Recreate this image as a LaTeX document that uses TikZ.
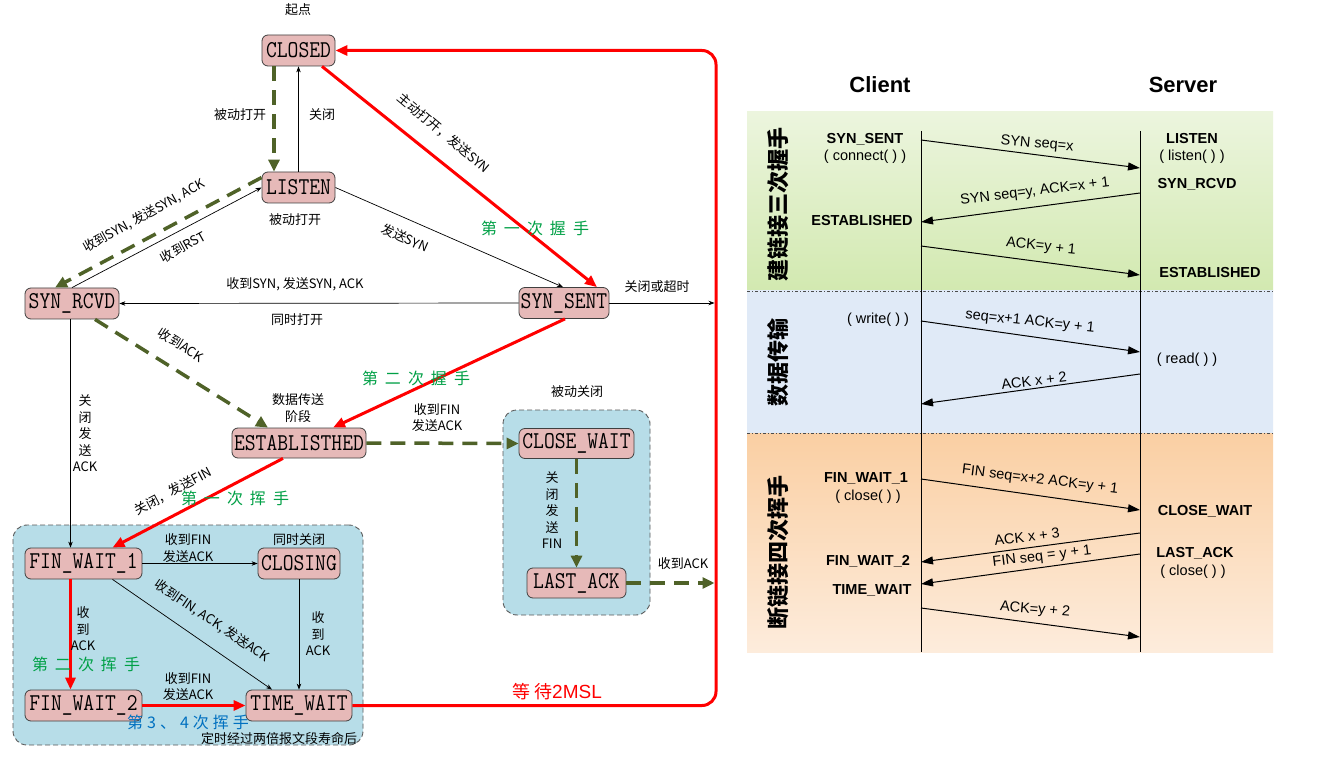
\documentclass[tikz,border=0pt]{standalone}
\usepackage{fontspec}
\usepackage{graphicx}
\setmainfont{Liberation Sans}
\newfontfamily\cjk{Noto Sans CJK SC}
\usetikzlibrary{arrows.meta}
\definecolor{statefill}{RGB}{230,185,184}
\definecolor{stateline}{RGB}{64,64,64}
\definecolor{boxfill}{RGB}{183,221,232}
\definecolor{boxline}{RGB}{90,90,90}
\definecolor{dgreen}{RGB}{79,98,40}
\definecolor{hgreen}{RGB}{0,160,70}
\definecolor{hblue}{RGB}{0,112,192}
\definecolor{mred}{RGB}{255,0,0}
\definecolor{gtop}{RGB}{236,245,222}
\definecolor{gbot}{RGB}{210,233,176}
\definecolor{bside}{RGB}{224,234,247}
\definecolor{bmid}{RGB}{192,211,240}
\definecolor{otop}{RGB}{250,207,163}
\definecolor{obot}{RGB}{253,236,220}
\newcommand\gp{\hspace{7pt}}
\newcommand\gq{\hspace{4pt}}
\newcommand\sg[1]{\scalebox{1}[1.15]{#1}}
\begin{document}
\begin{tikzpicture}[x=1pt,y=-1pt,
 stbox/.style={draw=stateline, line width=0.8pt, fill=statefill, rounded corners=6pt, inner sep=0pt, minimum height=31pt, font=\ttfamily\fontsize{21}{21}\selectfont},
 grp/.style={draw=boxline, line width=0.9pt, dash pattern=on 5pt off 3pt, fill=boxfill, rounded corners=14pt, inner sep=0pt},
 lbl/.style={font=\cjk\fontsize{13}{16.5}\selectfont, inner sep=0pt, align=center},
 hs/.style={font=\cjk\fontsize{16}{16}\selectfont, text=hgreen, inner sep=0pt},
 thinarr/.style={draw=black, line width=0.7pt, -{Stealth[length=6pt,width=4.5pt]}},
 greenarr/.style={draw=dgreen, line width=3.5pt, dash pattern=on 15pt off 9pt, -{Triangle[length=12pt,width=11pt]}},
 redarr/.style={draw=mred, line width=3pt, -{Triangle[length=12pt,width=10pt]}},
 lifeline/.style={draw=black, line width=1pt},
 seqarr/.style={draw=black, line width=1pt, -{Triangle[length=12pt,width=8pt]}},
 seqlbl/.style={font=\fontsize{14.5}{17}\selectfont, inner sep=0pt, align=center},
 seqst/.style={font=\bfseries\fontsize{14.5}{17}\selectfont, inner sep=0pt},
 bandlbl/.style={font=\cjk\bfseries\fontsize{22}{22}\selectfont, rotate=90, inner sep=0pt},
 bandsep/.style={draw=black!70, line width=0.8pt, dash pattern=on 3pt off 2pt on 1pt off 2pt}
]
\fill[white] (0,0) rectangle (1320,759);
\useasboundingbox (0,0) rectangle (1320,759);

% ---------------- left: state diagram ----------------
\node[grp, minimum width=350pt, minimum height=220pt] (grpA) at (188,635) {};
\node[grp, minimum width=147pt, minimum height=205pt] (grpB) at (576.5,512.5) {};

\node[stbox, minimum width=73pt] (closed) at (298.5,50.5) {\sg{CLOSED}};
\node[stbox, minimum width=73pt] (listen) at (298.5,187.5) {\sg{LISTEN}};
\node[stbox, minimum width=94pt] (synrcvd) at (72,303.5) {\sg{SYN\_RCVD}};
\node[stbox, minimum width=90pt] (synsent) at (564,303) {\sg{SYN\_SENT}};
\node[stbox, minimum width=134pt, minimum height=30pt] (estab) at (299,443) {\sg{ESTABLISTHED}};
\node[stbox, minimum width=115pt, minimum height=30pt] (closewait) at (576.5,443.5) {\sg{CLOSE\_WAIT}};
\node[stbox, minimum width=99pt, minimum height=30pt] (lastack) at (576.5,583) {\sg{LAST\_ACK}};
\node[stbox, minimum width=117pt] (finwait1) at (83.5,563.5) {\sg{FIN\_WAIT\_1}};
\node[stbox, minimum width=82pt] (closing) at (299,563.5) {\sg{CLOSING}};
\node[stbox, minimum width=117pt] (finwait2) at (83.5,705.5) {\sg{FIN\_WAIT\_2}};
\node[stbox, minimum width=106pt] (timewait) at (299,705.5) {\sg{TIME\_WAIT}};

\coordinate (loopB) at (716,705.5);
\coordinate (loopT) at (716,50.5);

% connectors
\draw[greenarr] ([xshift=-24.5pt]closed.south) -- ([xshift=-24.5pt]listen.north);
\draw[thinarr] (listen.north) -- (closed.south);
\draw[redarr] ([xshift=23.5pt]closed.south) -- ([xshift=33pt]synsent.north);
\draw[thinarr] (listen.east) -- ([xshift=-1pt]synsent.north);
\draw[greenarr] ([yshift=10pt]listen.west) -- ([xshift=-17pt]synrcvd.north);
\draw[thinarr] (synrcvd.north) -- (listen.west);
\draw[thinarr] (synsent.west) -- (synrcvd.east);
\draw[thinarr, shorten >=1.5pt] (synsent.east) -- (synsent.east -| loopB);
\draw[redarr] ([xshift=1pt]synsent.south) -- ([xshift=34pt]estab.north);
\draw[greenarr] ([xshift=23pt]synrcvd.south) -- ([xshift=-31pt]estab.north);
\draw[thinarr] ([xshift=-1.5pt]synrcvd.south) -- ([xshift=-13pt]finwait1.north);
\draw[redarr] ([xshift=-16pt]estab.south) -- ([xshift=29pt]finwait1.north);
\draw[greenarr] (estab.east) -- (closewait.west);
\draw[greenarr] (closewait.south) -- (lastack.north);
\draw[greenarr, shorten >=1.5pt] (lastack.east) -- (lastack.east -| loopB);
\draw[thinarr] (finwait1.east) -- (closing.west);
\draw[thinarr] ([xshift=29pt]finwait1.south) -- ([xshift=-27pt]timewait.north);
\draw[thinarr] (closing.south) -- (timewait.north);
\draw[redarr] ([xshift=-13pt]finwait1.south) -- ([xshift=-13pt]finwait2.north);
\draw[redarr] (finwait2.east) -- (timewait.west);
\draw[redarr, rounded corners=14pt] (timewait.east) -- (loopB) -- (loopT) -- (closed.east);

% labels
\node[lbl] (l1) at (298,10) {起点};
\node[lbl] (l2) at (240,115) {被动打开};
\node[lbl] (l3) at (322,115) {关闭};
\node[lbl, rotate=-40] (l4) at (444,133) {主动打开，发送SYN};
\node[hs] (l5) at (535,228) {第\gp 一\gp 次\gp 握\gp 手};
\node[lbl, rotate=-24] (l6) at (405,238) {发送SYN};
\node[lbl] (l7) at (295,220) {被动打开};
\node[lbl, rotate=29] (l8) at (144,216) {收到SYN, 发送SYN, ACK};
\node[lbl, rotate=29] (l9) at (183,247) {收到RST};
\node[lbl] (l10) at (295,284) {收到SYN, 发送SYN, ACK};
\node[lbl] (l11) at (297,320) {同时打开};
\node[lbl] (l12) at (657,287) {关闭或超时};
\node[hs] (l13) at (416,378) {第\gp 二\gp 次\gp 握\gp 手};
\node[lbl, rotate=-32] (l14) at (181,345) {收到ACK};
\node[lbl] (l15) at (298,408) {数据传送\\阶段};
\node[lbl] (l16) at (85,433.5) {关\\闭\\发\\送\\ACK};
\node[lbl, rotate=28] (l17) at (173,491) {关闭，发送FIN};
\node[hs] (l18) at (235,498) {第\gp 一\gp 次\gp 挥\gp 手};
\node[lbl] (l19) at (437,417.5) {收到FIN\\发送ACK};
\node[lbl] (l20) at (577,392) {被动关闭};
\node[lbl] (l21) at (552,510.5) {关\\闭\\发\\送\\FIN};
\node[lbl] (l22) at (683,564) {收到ACK};
\node[lbl] (l23) at (188,548) {收到FIN\\发送ACK};
\node[lbl] (l24) at (299,540) {同时关闭};
\node[lbl, rotate=-34] (l25) at (212,621) {收到FIN, ACK, 发送ACK};
\node[lbl] (l26) at (318,634) {收\\到\\ACK};
\node[lbl] (l27) at (83,629) {收\\到\\ACK};
\node[hs] (l28) at (86,664) {第\gp 二\gp 次\gp 挥\gp 手};
\node[lbl] (l29) at (188,686.5) {收到FIN\\发送ACK};
\node[hs, text=hblue] (l30) at (188,722) {第\gq 3\gq 、\gq 4\gq 次\gq 挥\gq 手};
\node[lbl] (l31) at (279,738.5) {定时经过两倍报文段寿命后};
\node[inner sep=0pt, text=mred] (l32) at (557,692) {{\cjk\fontsize{18}{18}\selectfont 等\gq 待}{\fontsize{19}{19}\selectfont 2MSL}};

% ---------------- right: sequence diagram ----------------
\fill[top color=gtop, bottom color=gbot] (747,112) rectangle (1273,291);
\fill[left color=bside, middle color=bmid, right color=bside] (747,291) rectangle (1273,433);
\fill[top color=otop, bottom color=obot] (747,433) rectangle (1273,652);
\draw[bandsep] (747,291) -- (1273,291);
\draw[bandsep] (747,433) -- (1273,433);

\node[font=\bfseries\fontsize{22}{22}\selectfont, inner sep=0pt] (client) at (880,85) {Client};
\node[font=\bfseries\fontsize{22}{22}\selectfont, inner sep=0pt] (server) at (1183,85) {Server};

\coordinate (ctop) at (921,131); \coordinate (cbot) at (921,652);
\coordinate (stop) at (1140,131); \coordinate (sbot) at (1140,652);
\draw[lifeline] (ctop) -- (cbot);
\draw[lifeline] (stop) -- (sbot);

\node[bandlbl] (b1) at (778,205) {建链接三次握手};
\node[bandlbl] (b2) at (778,362) {数据传输};
\node[bandlbl] (b3) at (778,552) {断链接四次挥手};

\node[seqst] (r1) at (865,139) {SYN\_SENT};
\node[seqlbl] (r2) at (865,157) {( connect( ) )};
\node[seqst] (r3) at (1192,139) {LISTEN};
\node[seqlbl] (r4) at (1192,157) {( listen( ) )};
\node[seqst] (r5) at (1197,184) {SYN\_RCVD};
\node[seqst] (r6) at (862,221) {ESTABLISHED};
\node[seqst] (r7) at (1210,273) {ESTABLISHED};
\node[seqlbl] (r8) at (878,320) {( write( ) )};
\node[seqlbl] (r9) at (1187,360) {( read( ) )};
\node[seqst] (r10) at (866,478) {FIN\_WAIT\_1};
\node[seqlbl] (r11) at (868,497) {( close( ) )};
\node[seqst] (r12) at (1205,511) {CLOSE\_WAIT};
\node[seqst] (r13) at (1195,553) {LAST\_ACK};
\node[seqlbl] (r14) at (1193,572) {( close( ) )};
\node[seqst] (r15) at (868,561) {FIN\_WAIT\_2};
\node[seqst] (r16) at (872,590) {TIME\_WAIT};

\coordinate (ca1) at (921,140); \coordinate (sa1) at (1140,168);
\coordinate (sa2) at (1140,193); \coordinate (ca2) at (921,222);
\coordinate (ca3) at (921,246); \coordinate (sa3) at (1140,275);
\coordinate (ca4) at (921,321); \coordinate (sa4) at (1140,352);
\coordinate (sa5) at (1140,374); \coordinate (ca5) at (921,404);
\coordinate (ca6) at (921,479); \coordinate (sa6) at (1140,510);
\coordinate (sa7) at (1140,533); \coordinate (ca7) at (921,562);
\coordinate (sa8) at (1140,554); \coordinate (ca8) at (921,584);
\coordinate (ca9) at (921,608); \coordinate (sa9) at (1140,637);
\draw[seqarr] (ca1) -- (sa1);
\draw[seqarr] (sa2) -- (ca2);
\draw[seqarr] (ca3) -- (sa3);
\draw[seqarr] (ca4) -- (sa4);
\draw[seqarr] (sa5) -- (ca5);
\draw[seqarr] (ca6) -- (sa6);
\draw[seqarr] (sa7) -- (ca7);
\draw[seqarr] (sa8) -- (ca8);
\draw[seqarr] (ca9) -- (sa9);

\node[seqlbl, rotate=-5] (m1) at (1037,144) {SYN seq=x};
\node[seqlbl, rotate=7] (m2) at (1035,192) {SYN seq=y, ACK=x + 1};
\node[seqlbl, rotate=-6] (m3) at (1041,247) {ACK=y + 1};
\node[seqlbl, rotate=-6] (m4) at (1030,322) {seq=x+1 ACK=y + 1};
\node[seqlbl, rotate=7] (m5) at (1034,381) {ACK x + 2};
\node[seqlbl, rotate=-7] (m6) at (1040,480) {FIN seq=x+2 ACK=y + 1};
\node[seqlbl, rotate=7] (m7) at (1027,537) {ACK x + 3};
\node[seqlbl, rotate=7] (m8) at (1042,557) {FIN seq = y + 1};
\node[seqlbl, rotate=-5] (m9) at (1035,610) {ACK=y + 2};
\end{tikzpicture}
\end{document}
